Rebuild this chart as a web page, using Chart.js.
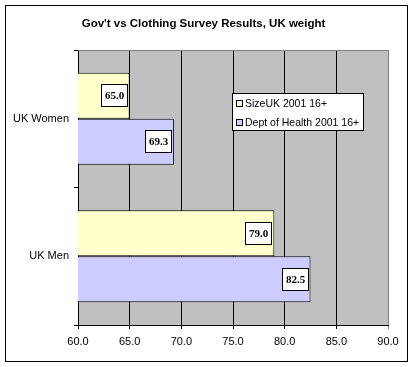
<!DOCTYPE html>
<html>
<head>
<meta charset="utf-8">
<script src="https://cdn.jsdelivr.net/npm/chart.js@4/dist/chart.umd.min.js"></script>
<style>
  html, body { margin: 0; padding: 0; background: #fff; }
  canvas { display: block; }
</style>
</head>
<body>
<canvas id="chart" width="413" height="367"></canvas>
<script>
const titleText = "Gov't vs Clothing Survey Results, UK weight";
const categories = ['UK Women', 'UK Men'];
const seriesNames = ['SizeUK 2001 16+', 'Dept of Health 2001 16+'];
const sizeUK = [65.0, 79.0];
const deptHealth = [69.3, 82.5];
const xTicks = [60, 65, 70, 75, 80, 85, 90];

const SANS = '"Liberation Sans", Arial, sans-serif';
const SERIF = '"Liberation Serif", "Times New Roman", serif';

// gray plot background, white page
const backdrop = {
  id: 'backdrop',
  beforeDraw(chart) {
    const { ctx, chartArea: a } = chart;
    ctx.save();
    ctx.fillStyle = '#fff';
    ctx.fillRect(0, 0, chart.width, chart.height);
    ctx.fillStyle = '#c0c0c0';
    ctx.fillRect(a.left, a.top, a.right - a.left, a.bottom - a.top);
    ctx.restore();
  }
};

// boxed value labels at the end of each bar
const valueBoxes = {
  id: 'valueBoxes',
  afterDatasetsDraw(chart) {
    const ctx = chart.ctx;
    ctx.save();
    ctx.font = 'bold 11px ' + SERIF;
    ctx.textAlign = 'center';
    ctx.textBaseline = 'middle';
    chart.data.datasets.forEach((ds, i) => {
      chart.getDatasetMeta(i).data.forEach((bar, j) => {
        const txt = ds.data[j].toFixed(1);
        const w = Math.round(ctx.measureText(txt).width) + 8;
        const h = 23;
        const right = Math.round(bar.x) - 2;
        const top = Math.round(bar.y - h / 2);
        ctx.fillStyle = '#fff';
        ctx.fillRect(right - w, top, w, h);
        ctx.strokeStyle = '#000';
        ctx.lineWidth = 1;
        ctx.strokeRect(right - w + 0.5, top + 0.5, w - 1, h - 1);
        ctx.fillStyle = '#000';
        ctx.fillText(txt, right - w / 2, top + h / 2 + 1);
      });
    });
    ctx.restore();
  }
};

// frame, title, plot border and the boxed legend
const decor = {
  id: 'decor',
  afterDraw(chart) {
    const { ctx, chartArea: a } = chart;
    ctx.save();
    ctx.lineWidth = 1;
    ctx.strokeStyle = '#808080';
    ctx.beginPath();
    ctx.moveTo(a.left, a.top + 0.5);
    ctx.lineTo(a.right, a.top + 0.5);
    ctx.stroke();

    ctx.strokeStyle = '#000';
    ctx.strokeRect(5.5, 5.5, 402, 356);

    ctx.fillStyle = '#000';
    ctx.font = 'bold 11.5px ' + SANS;
    ctx.textAlign = 'center';
    ctx.textBaseline = 'middle';
    ctx.fillText(titleText, 203.5, 24);

    // legend
    const lx = 232, ly = 93, lw = 132, lh = 38;
    ctx.fillStyle = '#fff';
    ctx.fillRect(lx, ly, lw, lh);
    ctx.strokeStyle = '#000';
    ctx.strokeRect(lx + 0.5, ly + 0.5, lw - 1, lh - 1);
    ctx.font = '10.5px ' + SANS;
    ctx.textAlign = 'left';
    chart.data.datasets.forEach((ds, i) => {
      const cy = ly + 10 + i * 19;
      ctx.fillStyle = ds.backgroundColor;
      ctx.fillRect(lx + 4, cy - 3, 7, 7);
      ctx.strokeStyle = '#000';
      ctx.strokeRect(lx + 4.5, cy - 2.5, 6, 6);
      ctx.fillStyle = '#000';
      ctx.fillText(ds.label, lx + 13, cy + 1);
    });
    ctx.restore();
  }
};

new Chart(document.getElementById('chart'), {
  type: 'bar',
  data: {
    labels: categories,
    datasets: [
      { label: seriesNames[0], data: sizeUK, backgroundColor: '#ffffcc' },
      { label: seriesNames[1], data: deptHealth, backgroundColor: '#ccccff' }
    ]
  },
  options: {
    indexAxis: 'y',
    responsive: false,
    animation: false,
    devicePixelRatio: 1,
    layout: { padding: { top: 50, right: 25, bottom: 0, left: 0 } },
    datasets: {
      bar: {
        borderColor: '#000',
        borderWidth: 1,
        borderSkipped: false,
        categoryPercentage: 0.67,
        barPercentage: 1
      }
    },
    plugins: {
      legend: { display: false },
      title: { display: false },
      tooltip: { enabled: false }
    },
    scales: {
      x: {
        min: xTicks[0],
        max: xTicks[xTicks.length - 1],
        afterBuildTicks(scale) { scale.ticks = xTicks.map(v => ({ value: v })); },
        afterFit(scale) { scale.height = 42; },
        ticks: {
          callback: v => Number(v).toFixed(1),
          color: '#000',
          font: { family: SANS, size: 11 },
          padding: 6,
          maxRotation: 0
        },
        grid: {
          color: c => (c.tick && c.tick.value === 90 ? '#808080' : '#000'),
          lineWidth: 1,
          tickLength: 4
        },
        border: { color: '#000', width: 1 }
      },
      y: {
        afterFit(scale) { scale.width = 78; },
        ticks: {
          color: '#000',
          font: { family: SANS, size: 11 },
          padding: 5
        },
        grid: {
          drawOnChartArea: false,
          color: '#000',
          tickLength: 4,
          offset: true
        },
        border: { color: '#000', width: 1 }
      }
    }
  },
  plugins: [backdrop, valueBoxes, decor]
});
</script>
</body>
</html>
